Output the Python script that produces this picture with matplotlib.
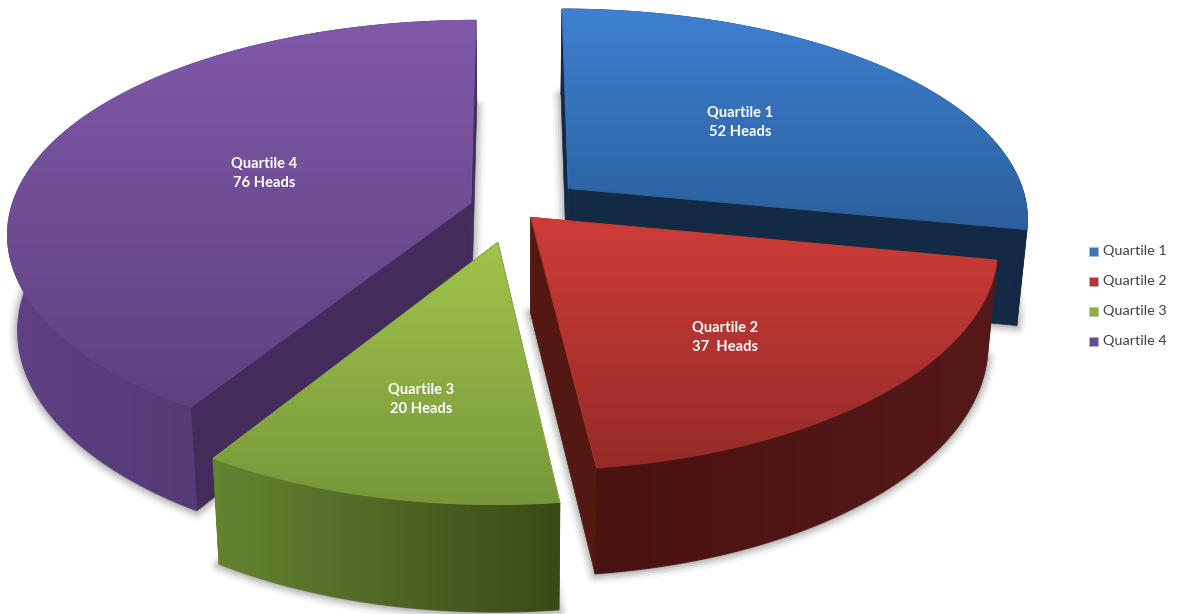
import matplotlib
matplotlib.use("Agg")
import matplotlib.pyplot as plt
from matplotlib.collections import LineCollection
from matplotlib.colors import to_rgb
from matplotlib.patches import Polygon, Rectangle
import numpy as np

labels = ["Quartile 1", "Quartile 2", "Quartile 3", "Quartile 4"]
heads = [52, 37, 20, 76]
head_text = ["52 Heads", "37  Heads", "20 Heads", "76 Heads"]
explode = [0.155, 0.053, 0.157, 0.098]

# colores: cara superior (arriba, abajo), lateral (izq, der), cara radial
top_colors = [("#3f80d2", "#2a5f9b"), ("#cf3c38", "#952b28"),
              ("#a1c44c", "#76973a"), ("#8059a9", "#5f3f80")]
side_colors = [("#14294a", "#122a45"), ("#4a1210", "#56191a"),
               ("#648431", "#3a4a18"), ("#5e4084", "#4a3163")]
radial_colors = ["#132a45", "#541813", "#3a4a18", "#432c5c"]
legend_colors = ["#3b74bd", "#b83431", "#8cb040", "#6c4a93"]
label_pos = [(740, 122.5), (725, 337.5), (421, 399.5), (264, 173.5)]
legend_y = [251, 281, 311, 341]

# Proyección del plano del pastel a píxeles
cx, cy = 514, 209
fx, fy = 460, 212
persp_x, persp_y = 0.135, 0.15
depth = 95
W, H = 1181, 614


def project(u, v):
    return cx + fx * u / (1 + persp_x * v), cy - fy * v / (1 + persp_y * v)


def project_low(u, v):
    x, y = project(u, v)
    return cx + (x - cx) * 0.98, y + depth / (1 + 0.1 * v)


def gradient_fill(ax, poly_xy, c0, c1, vertical, z):
    # degradado en y o en x recortado al polígono, con borde del mismo color
    poly_xy = np.asarray(poly_xy)
    x0, x1 = poly_xy[:, 0].min(), poly_xy[:, 0].max()
    y0, y1 = poly_xy[:, 1].min(), poly_xy[:, 1].max()
    t = np.linspace(0, 1, 256)
    c0, c1 = np.array(to_rgb(c0)), np.array(to_rgb(c1))
    rgb = np.outer(1 - t, c0) + np.outer(t, c1)
    img = rgb[:, None, :] if vertical else rgb[None, :, :]
    im = ax.imshow(img, extent=(x0, x1, y1, y0), aspect="auto", zorder=z,
                   interpolation="bilinear")
    im.set_clip_path(Polygon(poly_xy, closed=True, transform=ax.transData))
    closed = np.vstack([poly_xy, poly_xy[:1]])
    segs = np.stack([closed[:-1], closed[1:]], axis=1)
    mids = segs.mean(axis=1)
    tt = (mids[:, 1] - y0) / (y1 - y0) if vertical else (mids[:, 0] - x0) / (x1 - x0)
    ax.add_collection(LineCollection(segs, colors=np.outer(1 - tt, c0) + np.outer(tt, c1),
                                     linewidths=0.7, zorder=z))


fig = plt.figure(figsize=(W / 100, H / 100), dpi=100)
ax = fig.add_axes([0, 0, 1, 1])

angles = np.cumsum([0] + heads) / sum(heads) * 2 * np.pi
order = [3, 0, 2, 1]  # de atrás hacia adelante
z = 1
for i in order:
    a0, a1 = angles[i], angles[i + 1]
    mid = (a0 + a1) / 2
    ou, ov = explode[i] * np.sin(mid), explode[i] * np.cos(mid)
    th = np.linspace(a0, a1, 160)
    u = ou + np.sin(th)
    v = ov + np.cos(th)
    ax_top = np.column_stack(project(u, v))
    arc_low = np.column_stack(project_low(u, v))
    apex_top = np.array(project(ou, ov))
    apex_low = np.array(project_low(ou, ov))

    # sombra difusa bajo la base
    base = np.vstack([apex_low, arc_low]) + [0, 1]
    for lw, al in [(13, 0.06), (9, 0.09), (6, 0.11), (3, 0.14)]:
        ax.add_patch(Polygon(base, closed=True, facecolor="#555555",
                             edgecolor="#555555", lw=lw, alpha=al, zorder=z,
                             joinstyle="round"))
    z += 1

    # caras radiales
    for end_top, end_low in [(ax_top[0], arc_low[0]), (ax_top[-1], arc_low[-1])]:
        ax.add_patch(Polygon([apex_top, end_top, end_low, apex_low], closed=True,
                             facecolor=radial_colors[i], edgecolor=radial_colors[i],
                             lw=0.4, zorder=z))
    z += 1

    # lateral curvo
    side = np.vstack([ax_top, arc_low[::-1]])
    gradient_fill(ax, side, side_colors[i][0], side_colors[i][1], False, z)
    z += 1

    # cara superior
    top = np.vstack([apex_top, ax_top])
    gradient_fill(ax, top, top_colors[i][0], top_colors[i][1], True, z)
    z += 1

for i in range(4):
    ax.text(label_pos[i][0], label_pos[i][1], labels[i] + "\n" + head_text[i],
            color="white", fontfamily="Lato", fontweight="bold", fontsize=10.6,
            ha="center", va="center", linespacing=1.5, zorder=z)
    ax.add_patch(Rectangle((1089, legend_y[i] - 4.5), 9, 9,
                           facecolor=legend_colors[i], edgecolor="#bbbbbb", lw=0.4, zorder=z))
    ax.text(1103, legend_y[i], labels[i], color="#404040", fontfamily="Lato",
            fontsize=10.4, ha="left", va="center", zorder=z)

ax.set_xlim(0, W)
ax.set_ylim(H, 0)
ax.axis("off")
fig.savefig("out.png", dpi=100, facecolor="white")
